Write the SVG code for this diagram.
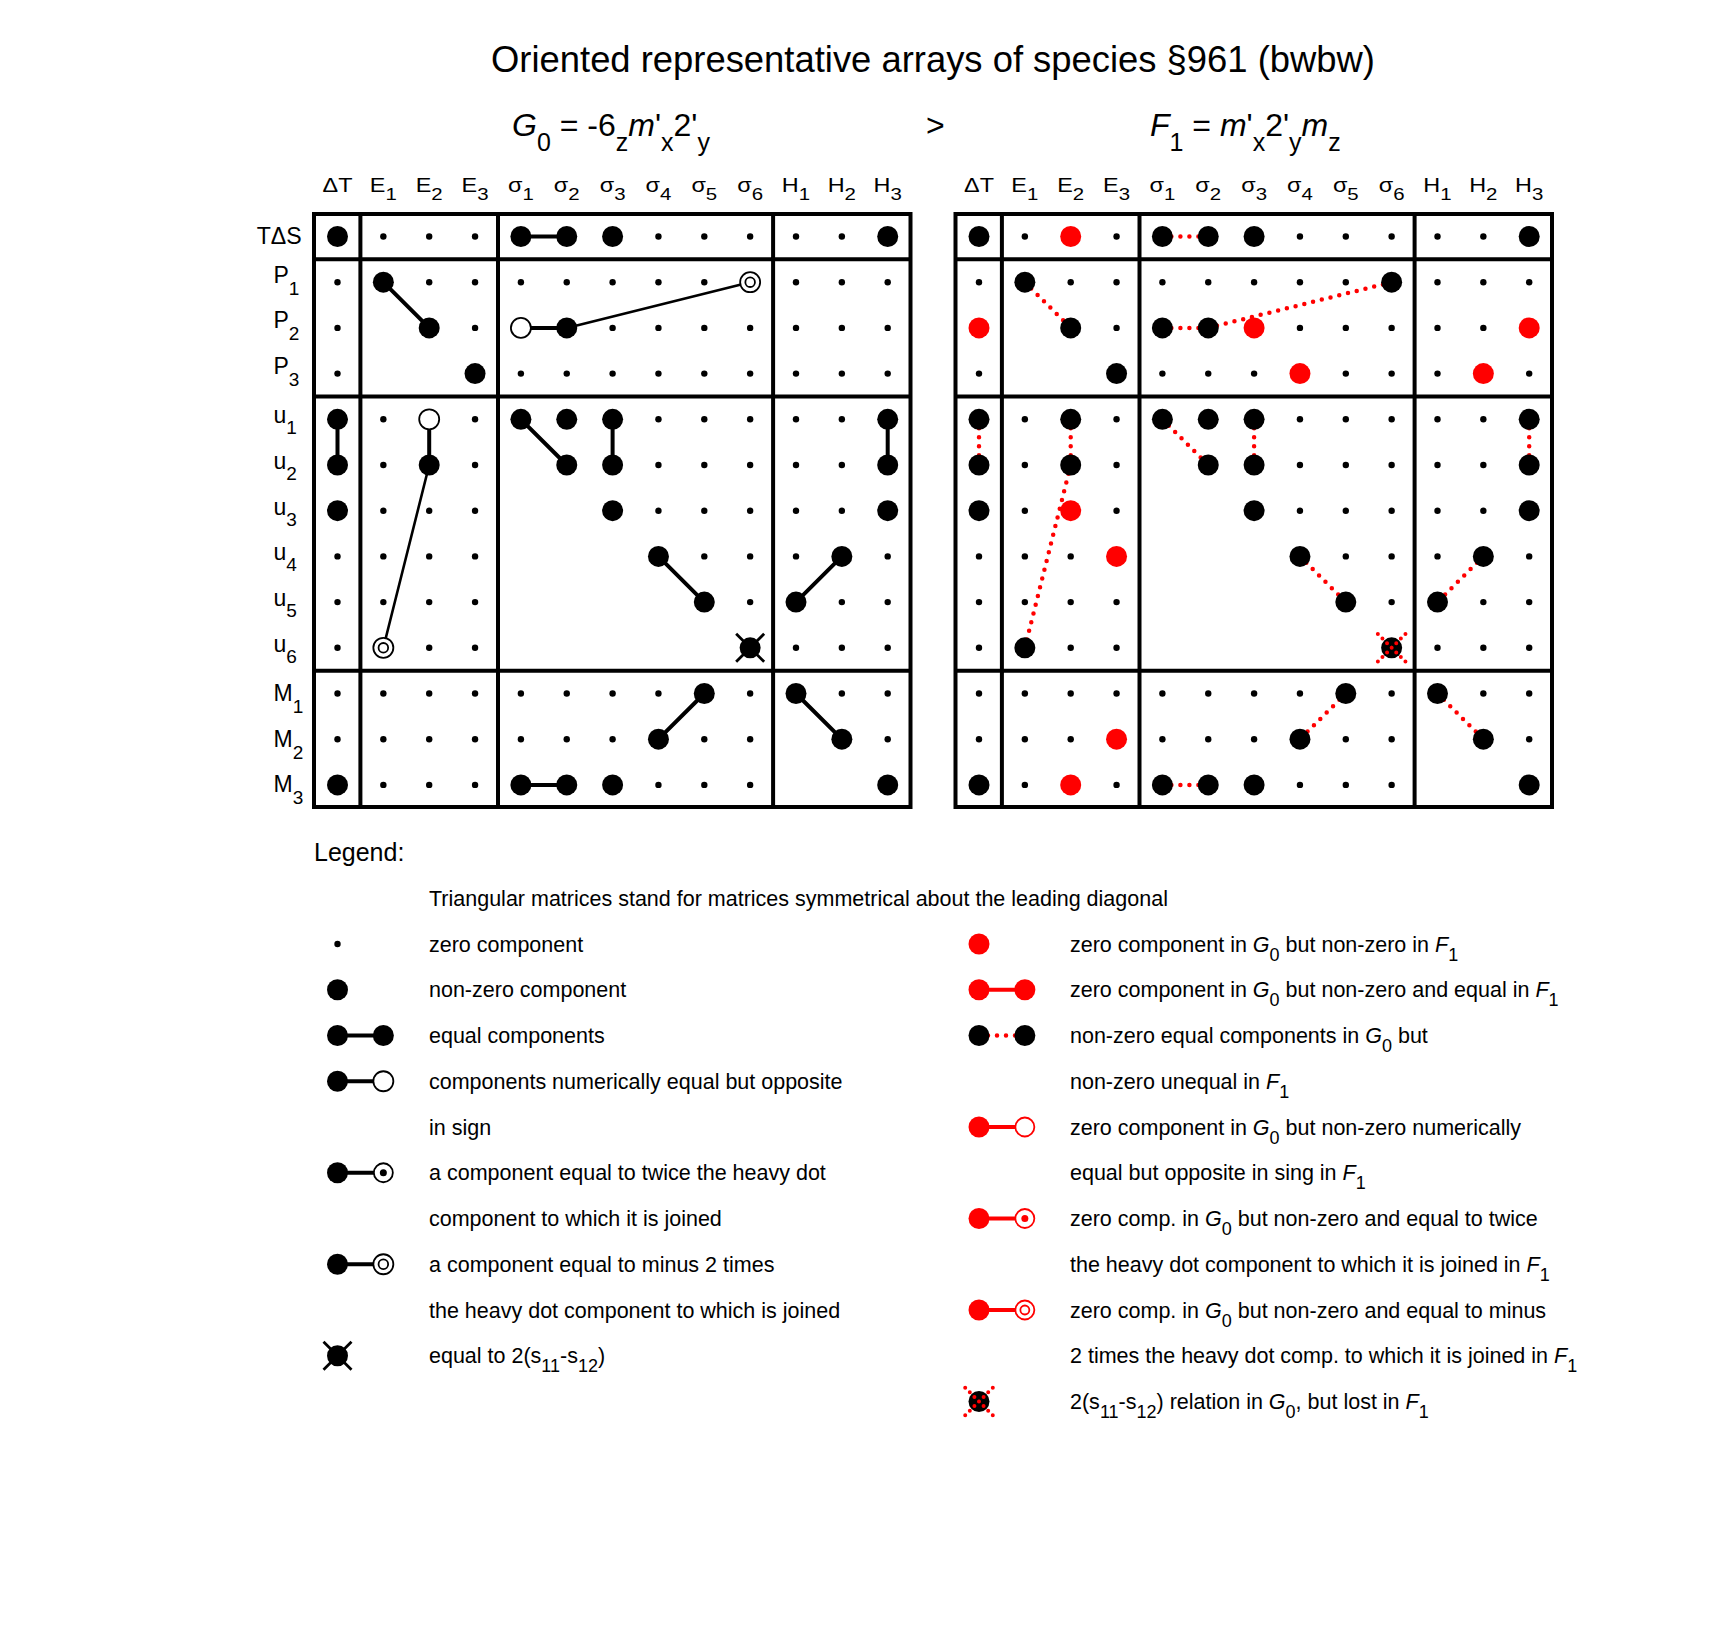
<svg xmlns="http://www.w3.org/2000/svg" width="1715" height="1626" viewBox="0 0 1715 1626">
<style>
text{font-family:"Liberation Sans",Arial,sans-serif;fill:#000}
.title{font-size:36.4px}
.f{font-size:32px}
.fs{font-size:25px}
.h{font-size:19.5px;text-anchor:middle}
.hs{font-size:17px}
.rl{font-size:23px}
.rs{font-size:19px}
.lg{font-size:21.5px}
.ls{font-size:18px}
.i{font-style:italic}
.frame{fill:none;stroke:#000;stroke-width:4}
.thick{stroke:#000;stroke-width:4;fill:none}
.thin{stroke:#000;stroke-width:2.6;fill:none}
.rdot{stroke:#f00;stroke-width:4.5;stroke-dasharray:0 9;stroke-linecap:round;fill:none}
.rline{stroke:#f00;stroke-width:4;fill:none}
</style>
<defs>
<circle id="s" r="3.2"/>
<circle id="b" r="10.5"/>
<circle id="r" r="10.5" fill="#f00"/>
<g id="o"><circle r="10" fill="#fff" stroke="#000" stroke-width="1.8"/></g>
<g id="d"><circle r="10" fill="#fff" stroke="#000" stroke-width="1.8"/><circle r="4.8" fill="none" stroke="#000" stroke-width="1.8"/></g>
<g id="t"><circle r="9.5" fill="#fff" stroke="#000" stroke-width="1.8"/><circle r="3.5"/></g>
<g id="ro"><circle r="9.5" fill="#fff" stroke="#f00" stroke-width="1.8"/></g>
<g id="rt"><circle r="9.5" fill="#fff" stroke="#f00" stroke-width="1.8"/><circle r="3.5" fill="#f00"/></g>
<g id="rd"><circle r="9.5" fill="#fff" stroke="#f00" stroke-width="1.8"/><circle r="4.5" fill="none" stroke="#f00" stroke-width="1.8"/></g>
<g id="x"><circle r="10.5"/><path d="M-14,-14L14,14M14,-14L-14,14" stroke="#000" stroke-width="2.8"/></g>
<g id="y"><circle r="10.5"/><path d="M-13.8,-13.8L13.8,13.8M13.8,-13.8L-13.8,13.8" stroke="#f00" stroke-width="4" stroke-linecap="round" stroke-dasharray="0 6.5" fill="none"/></g>
</defs>
<rect width="1715" height="1626" fill="#fff"/>

<g id="titles">
<text class="title" x="933" y="72" text-anchor="middle">Oriented representative arrays of species §961 (bwbw)</text>
<text class="f" x="512" y="136"><tspan class="i">G</tspan><tspan class="fs" dy="15">0</tspan><tspan dy="-15"> = -6</tspan><tspan class="fs" dy="15">z</tspan><tspan class="i" dy="-15">m</tspan><tspan>'</tspan><tspan class="fs" dy="15">x</tspan><tspan dy="-15">2'</tspan><tspan class="fs" dy="15">y</tspan></text>
<text class="f" x="926" y="136">&gt;</text>
<text class="f" x="1150" y="136"><tspan class="i">F</tspan><tspan class="fs" dy="15">1</tspan><tspan dy="-15"> = </tspan><tspan class="i">m</tspan><tspan>'</tspan><tspan class="fs" dy="15">x</tspan><tspan dy="-15">2'</tspan><tspan class="fs" dy="15">y</tspan><tspan class="i" dy="-15">m</tspan><tspan class="fs" dy="15">z</tspan></text>
</g>

<g id="headers">
<g id="headers-G0" transform="translate(337.5,191.5) scale(1.2,1)">
<text class="h" x="0">ΔT</text>
<text class="h" x="38.21">E<tspan class="hs" dy="8.5">1</tspan></text>
<text class="h" x="76.42">E<tspan class="hs" dy="8.5">2</tspan></text>
<text class="h" x="114.63">E<tspan class="hs" dy="8.5">3</tspan></text>
<text class="h" x="152.83">σ<tspan class="hs" dy="8.5">1</tspan></text>
<text class="h" x="191.04">σ<tspan class="hs" dy="8.5">2</tspan></text>
<text class="h" x="229.25">σ<tspan class="hs" dy="8.5">3</tspan></text>
<text class="h" x="267.46">σ<tspan class="hs" dy="8.5">4</tspan></text>
<text class="h" x="305.67">σ<tspan class="hs" dy="8.5">5</tspan></text>
<text class="h" x="343.88">σ<tspan class="hs" dy="8.5">6</tspan></text>
<text class="h" x="382.08">H<tspan class="hs" dy="8.5">1</tspan></text>
<text class="h" x="420.29">H<tspan class="hs" dy="8.5">2</tspan></text>
<text class="h" x="458.5">H<tspan class="hs" dy="8.5">3</tspan></text>
</g>
<g id="headers-F1" transform="translate(979,191.5) scale(1.2,1)">
<text class="h" x="0">ΔT</text>
<text class="h" x="38.21">E<tspan class="hs" dy="8.5">1</tspan></text>
<text class="h" x="76.42">E<tspan class="hs" dy="8.5">2</tspan></text>
<text class="h" x="114.63">E<tspan class="hs" dy="8.5">3</tspan></text>
<text class="h" x="152.83">σ<tspan class="hs" dy="8.5">1</tspan></text>
<text class="h" x="191.04">σ<tspan class="hs" dy="8.5">2</tspan></text>
<text class="h" x="229.25">σ<tspan class="hs" dy="8.5">3</tspan></text>
<text class="h" x="267.46">σ<tspan class="hs" dy="8.5">4</tspan></text>
<text class="h" x="305.67">σ<tspan class="hs" dy="8.5">5</tspan></text>
<text class="h" x="343.88">σ<tspan class="hs" dy="8.5">6</tspan></text>
<text class="h" x="382.08">H<tspan class="hs" dy="8.5">1</tspan></text>
<text class="h" x="420.29">H<tspan class="hs" dy="8.5">2</tspan></text>
<text class="h" x="458.5">H<tspan class="hs" dy="8.5">3</tspan></text>
</g>
</g>

<g id="row-labels" transform="translate(0,236.5)">
<text class="rl" x="256.7" y="7.5" textLength="45" lengthAdjust="spacingAndGlyphs">TΔS</text>
<text class="rl" x="273.5" y="46">P<tspan class="rs" dy="12">1</tspan></text>
<text class="rl" x="273.5" y="91.7">P<tspan class="rs" dy="12">2</tspan></text>
<text class="rl" x="273.5" y="137.4">P<tspan class="rs" dy="12">3</tspan></text>
<text class="rl" x="273.5" y="186.8">u<tspan class="rs" dy="11">1</tspan></text>
<text class="rl" x="273.5" y="232.5">u<tspan class="rs" dy="11">2</tspan></text>
<text class="rl" x="273.5" y="278.2">u<tspan class="rs" dy="11">3</tspan></text>
<text class="rl" x="273.5" y="323.9">u<tspan class="rs" dy="11">4</tspan></text>
<text class="rl" x="273.5" y="369.6">u<tspan class="rs" dy="11">5</tspan></text>
<text class="rl" x="273.5" y="415.3">u<tspan class="rs" dy="11">6</tspan></text>
<text class="rl" x="273.5" y="464.5">M<tspan class="rs" dy="12">1</tspan></text>
<text class="rl" x="273.5" y="510.2">M<tspan class="rs" dy="12">2</tspan></text>
<text class="rl" x="273.5" y="555.9">M<tspan class="rs" dy="12">3</tspan></text>
</g>

<g id="frames">
<g id="frame-G0" transform="translate(337.5,236.5)">
<rect class="frame" x="-23.5" y="-22.5" width="596.5" height="593"/>
<path class="frame" d="M22.9,-22.5V570.5M160.5,-22.5V570.5M435.6,-22.5V570.5M-23.5,22.85H573M-23.5,159.95H573M-23.5,434.15H573"/>
</g>
<g id="frame-F1" transform="translate(979,236.5)">
<rect class="frame" x="-23.5" y="-22.5" width="596.5" height="593"/>
<path class="frame" d="M22.9,-22.5V570.5M160.5,-22.5V570.5M435.6,-22.5V570.5M-23.5,22.85H573M-23.5,159.95H573M-23.5,434.15H573"/>
</g>
</g>

<g id="connectors">
<g id="connectors-G0" transform="translate(337.5,236.5)">
<path class="thick" d="M183.4,0H229.25M45.85,45.7L91.7,91.4M183.4,91.4H229.25M0,182.8V228.5M91.7,182.8V228.5M183.4,182.8L229.25,228.5M275.1,182.8V228.5M550.2,182.8V228.5M320.95,319.9L366.8,365.6M504.35,319.9L458.5,365.6M366.8,457L320.95,502.7M458.5,457L504.35,502.7M183.4,548.4H229.25"/>
<path class="thin" d="M229.25,91.4L412.65,45.7M91.7,228.5L45.85,411.3"/>
</g>
<g id="connectors-F1" transform="translate(979,236.5)">
<path class="rdot" d="M183.4,0H229.25M45.85,45.7L91.7,91.4M183.4,91.4H229.25M0,182.8V228.5M91.7,182.8V228.5M183.4,182.8L229.25,228.5M275.1,182.8V228.5M550.2,182.8V228.5M320.95,319.9L366.8,365.6M504.35,319.9L458.5,365.6M366.8,457L320.95,502.7M458.5,457L504.35,502.7M183.4,548.4H229.25M229.25,91.4L412.65,45.7M91.7,228.5L45.85,411.3"/>
</g>
</g>

<g id="array-G0" transform="translate(337.5,236.5)">
<g id="G0-TdS"><use href="#b" x="0"/><use href="#s" x="45.85"/><use href="#s" x="91.7"/><use href="#s" x="137.55"/><use href="#b" x="183.4"/><use href="#b" x="229.25"/><use href="#b" x="275.1"/><use href="#s" x="320.95"/><use href="#s" x="366.8"/><use href="#s" x="412.65"/><use href="#s" x="458.5"/><use href="#s" x="504.35"/><use href="#b" x="550.2"/></g>
<g id="G0-P1" transform="translate(0,45.7)"><use href="#s" x="0"/><use href="#b" x="45.85"/><use href="#s" x="91.7"/><use href="#s" x="137.55"/><use href="#s" x="183.4"/><use href="#s" x="229.25"/><use href="#s" x="275.1"/><use href="#s" x="320.95"/><use href="#s" x="366.8"/><use href="#d" x="412.65"/><use href="#s" x="458.5"/><use href="#s" x="504.35"/><use href="#s" x="550.2"/></g>
<g id="G0-P2" transform="translate(0,91.4)"><use href="#s" x="0"/><use href="#b" x="91.7"/><use href="#s" x="137.55"/><use href="#o" x="183.4"/><use href="#b" x="229.25"/><use href="#s" x="275.1"/><use href="#s" x="320.95"/><use href="#s" x="366.8"/><use href="#s" x="412.65"/><use href="#s" x="458.5"/><use href="#s" x="504.35"/><use href="#s" x="550.2"/></g>
<g id="G0-P3" transform="translate(0,137.1)"><use href="#s" x="0"/><use href="#b" x="137.55"/><use href="#s" x="183.4"/><use href="#s" x="229.25"/><use href="#s" x="275.1"/><use href="#s" x="320.95"/><use href="#s" x="366.8"/><use href="#s" x="412.65"/><use href="#s" x="458.5"/><use href="#s" x="504.35"/><use href="#s" x="550.2"/></g>
<g id="G0-u1" transform="translate(0,182.8)"><use href="#b" x="0"/><use href="#s" x="45.85"/><use href="#o" x="91.7"/><use href="#s" x="137.55"/><use href="#b" x="183.4"/><use href="#b" x="229.25"/><use href="#b" x="275.1"/><use href="#s" x="320.95"/><use href="#s" x="366.8"/><use href="#s" x="412.65"/><use href="#s" x="458.5"/><use href="#s" x="504.35"/><use href="#b" x="550.2"/></g>
<g id="G0-u2" transform="translate(0,228.5)"><use href="#b" x="0"/><use href="#s" x="45.85"/><use href="#b" x="91.7"/><use href="#s" x="137.55"/><use href="#b" x="229.25"/><use href="#b" x="275.1"/><use href="#s" x="320.95"/><use href="#s" x="366.8"/><use href="#s" x="412.65"/><use href="#s" x="458.5"/><use href="#s" x="504.35"/><use href="#b" x="550.2"/></g>
<g id="G0-u3" transform="translate(0,274.2)"><use href="#b" x="0"/><use href="#s" x="45.85"/><use href="#s" x="91.7"/><use href="#s" x="137.55"/><use href="#b" x="275.1"/><use href="#s" x="320.95"/><use href="#s" x="366.8"/><use href="#s" x="412.65"/><use href="#s" x="458.5"/><use href="#s" x="504.35"/><use href="#b" x="550.2"/></g>
<g id="G0-u4" transform="translate(0,319.9)"><use href="#s" x="0"/><use href="#s" x="45.85"/><use href="#s" x="91.7"/><use href="#s" x="137.55"/><use href="#b" x="320.95"/><use href="#s" x="366.8"/><use href="#s" x="412.65"/><use href="#s" x="458.5"/><use href="#b" x="504.35"/><use href="#s" x="550.2"/></g>
<g id="G0-u5" transform="translate(0,365.6)"><use href="#s" x="0"/><use href="#s" x="45.85"/><use href="#s" x="91.7"/><use href="#s" x="137.55"/><use href="#b" x="366.8"/><use href="#s" x="412.65"/><use href="#b" x="458.5"/><use href="#s" x="504.35"/><use href="#s" x="550.2"/></g>
<g id="G0-u6" transform="translate(0,411.3)"><use href="#s" x="0"/><use href="#d" x="45.85"/><use href="#s" x="91.7"/><use href="#s" x="137.55"/><use href="#x" x="412.65"/><use href="#s" x="458.5"/><use href="#s" x="504.35"/><use href="#s" x="550.2"/></g>
<g id="G0-M1" transform="translate(0,457)"><use href="#s" x="0"/><use href="#s" x="45.85"/><use href="#s" x="91.7"/><use href="#s" x="137.55"/><use href="#s" x="183.4"/><use href="#s" x="229.25"/><use href="#s" x="275.1"/><use href="#s" x="320.95"/><use href="#b" x="366.8"/><use href="#s" x="412.65"/><use href="#b" x="458.5"/><use href="#s" x="504.35"/><use href="#s" x="550.2"/></g>
<g id="G0-M2" transform="translate(0,502.7)"><use href="#s" x="0"/><use href="#s" x="45.85"/><use href="#s" x="91.7"/><use href="#s" x="137.55"/><use href="#s" x="183.4"/><use href="#s" x="229.25"/><use href="#s" x="275.1"/><use href="#b" x="320.95"/><use href="#s" x="366.8"/><use href="#s" x="412.65"/><use href="#b" x="504.35"/><use href="#s" x="550.2"/></g>
<g id="G0-M3" transform="translate(0,548.4)"><use href="#b" x="0"/><use href="#s" x="45.85"/><use href="#s" x="91.7"/><use href="#s" x="137.55"/><use href="#b" x="183.4"/><use href="#b" x="229.25"/><use href="#b" x="275.1"/><use href="#s" x="320.95"/><use href="#s" x="366.8"/><use href="#s" x="412.65"/><use href="#b" x="550.2"/></g>
</g>

<g id="array-F1" transform="translate(979,236.5)">
<g id="F1-TdS"><use href="#b" x="0"/><use href="#s" x="45.85"/><use href="#r" x="91.7"/><use href="#s" x="137.55"/><use href="#b" x="183.4"/><use href="#b" x="229.25"/><use href="#b" x="275.1"/><use href="#s" x="320.95"/><use href="#s" x="366.8"/><use href="#s" x="412.65"/><use href="#s" x="458.5"/><use href="#s" x="504.35"/><use href="#b" x="550.2"/></g>
<g id="F1-P1" transform="translate(0,45.7)"><use href="#s" x="0"/><use href="#b" x="45.85"/><use href="#s" x="91.7"/><use href="#s" x="137.55"/><use href="#s" x="183.4"/><use href="#s" x="229.25"/><use href="#s" x="275.1"/><use href="#s" x="320.95"/><use href="#s" x="366.8"/><use href="#b" x="412.65"/><use href="#s" x="458.5"/><use href="#s" x="504.35"/><use href="#s" x="550.2"/></g>
<g id="F1-P2" transform="translate(0,91.4)"><use href="#r" x="0"/><use href="#b" x="91.7"/><use href="#s" x="137.55"/><use href="#b" x="183.4"/><use href="#b" x="229.25"/><use href="#r" x="275.1"/><use href="#s" x="320.95"/><use href="#s" x="366.8"/><use href="#s" x="412.65"/><use href="#s" x="458.5"/><use href="#s" x="504.35"/><use href="#r" x="550.2"/></g>
<g id="F1-P3" transform="translate(0,137.1)"><use href="#s" x="0"/><use href="#b" x="137.55"/><use href="#s" x="183.4"/><use href="#s" x="229.25"/><use href="#s" x="275.1"/><use href="#r" x="320.95"/><use href="#s" x="366.8"/><use href="#s" x="412.65"/><use href="#s" x="458.5"/><use href="#r" x="504.35"/><use href="#s" x="550.2"/></g>
<g id="F1-u1" transform="translate(0,182.8)"><use href="#b" x="0"/><use href="#s" x="45.85"/><use href="#b" x="91.7"/><use href="#s" x="137.55"/><use href="#b" x="183.4"/><use href="#b" x="229.25"/><use href="#b" x="275.1"/><use href="#s" x="320.95"/><use href="#s" x="366.8"/><use href="#s" x="412.65"/><use href="#s" x="458.5"/><use href="#s" x="504.35"/><use href="#b" x="550.2"/></g>
<g id="F1-u2" transform="translate(0,228.5)"><use href="#b" x="0"/><use href="#s" x="45.85"/><use href="#b" x="91.7"/><use href="#s" x="137.55"/><use href="#b" x="229.25"/><use href="#b" x="275.1"/><use href="#s" x="320.95"/><use href="#s" x="366.8"/><use href="#s" x="412.65"/><use href="#s" x="458.5"/><use href="#s" x="504.35"/><use href="#b" x="550.2"/></g>
<g id="F1-u3" transform="translate(0,274.2)"><use href="#b" x="0"/><use href="#s" x="45.85"/><use href="#r" x="91.7"/><use href="#s" x="137.55"/><use href="#b" x="275.1"/><use href="#s" x="320.95"/><use href="#s" x="366.8"/><use href="#s" x="412.65"/><use href="#s" x="458.5"/><use href="#s" x="504.35"/><use href="#b" x="550.2"/></g>
<g id="F1-u4" transform="translate(0,319.9)"><use href="#s" x="0"/><use href="#s" x="45.85"/><use href="#s" x="91.7"/><use href="#r" x="137.55"/><use href="#b" x="320.95"/><use href="#s" x="366.8"/><use href="#s" x="412.65"/><use href="#s" x="458.5"/><use href="#b" x="504.35"/><use href="#s" x="550.2"/></g>
<g id="F1-u5" transform="translate(0,365.6)"><use href="#s" x="0"/><use href="#s" x="45.85"/><use href="#s" x="91.7"/><use href="#s" x="137.55"/><use href="#b" x="366.8"/><use href="#s" x="412.65"/><use href="#b" x="458.5"/><use href="#s" x="504.35"/><use href="#s" x="550.2"/></g>
<g id="F1-u6" transform="translate(0,411.3)"><use href="#s" x="0"/><use href="#b" x="45.85"/><use href="#s" x="91.7"/><use href="#s" x="137.55"/><use href="#y" x="412.65"/><use href="#s" x="458.5"/><use href="#s" x="504.35"/><use href="#s" x="550.2"/></g>
<g id="F1-M1" transform="translate(0,457)"><use href="#s" x="0"/><use href="#s" x="45.85"/><use href="#s" x="91.7"/><use href="#s" x="137.55"/><use href="#s" x="183.4"/><use href="#s" x="229.25"/><use href="#s" x="275.1"/><use href="#s" x="320.95"/><use href="#b" x="366.8"/><use href="#s" x="412.65"/><use href="#b" x="458.5"/><use href="#s" x="504.35"/><use href="#s" x="550.2"/></g>
<g id="F1-M2" transform="translate(0,502.7)"><use href="#s" x="0"/><use href="#s" x="45.85"/><use href="#s" x="91.7"/><use href="#r" x="137.55"/><use href="#s" x="183.4"/><use href="#s" x="229.25"/><use href="#s" x="275.1"/><use href="#b" x="320.95"/><use href="#s" x="366.8"/><use href="#s" x="412.65"/><use href="#b" x="504.35"/><use href="#s" x="550.2"/></g>
<g id="F1-M3" transform="translate(0,548.4)"><use href="#b" x="0"/><use href="#s" x="45.85"/><use href="#r" x="91.7"/><use href="#s" x="137.55"/><use href="#b" x="183.4"/><use href="#b" x="229.25"/><use href="#b" x="275.1"/><use href="#s" x="320.95"/><use href="#s" x="366.8"/><use href="#s" x="412.65"/><use href="#b" x="550.2"/></g>
</g>

<g id="legend">
<text x="314" y="861" style="font-size:25px">Legend:</text>
<text class="lg" x="429" y="905.75">Triangular matrices stand for matrices symmetrical about the leading diagonal</text>
<g id="legend-left">
<use href="#s" x="337.5" y="944"/>
<use href="#b" x="337.5" y="989.75"/>
<path class="thick" d="M337.5,1035.5H383.35M337.5,1081.25H383.35M337.5,1172.75H383.35M337.5,1264.25H383.35"/>
<use href="#b" x="337.5" y="1035.5"/><use href="#b" x="383.35" y="1035.5"/>
<use href="#b" x="337.5" y="1081.25"/><use href="#o" x="383.35" y="1081.25"/>
<use href="#b" x="337.5" y="1172.75"/><use href="#t" x="383.35" y="1172.75"/>
<use href="#b" x="337.5" y="1264.25"/><use href="#d" x="383.35" y="1264.25"/>
<use href="#x" x="337.5" y="1355.75"/>
<text class="lg" x="429" y="951.5">zero component</text>
<text class="lg" x="429" y="997.25">non-zero component</text>
<text class="lg" x="429" y="1043">equal components</text>
<text class="lg" x="429" y="1088.75">components numerically equal but opposite</text>
<text class="lg" x="429" y="1134.5">in sign</text>
<text class="lg" x="429" y="1180.25">a component equal to twice the heavy dot</text>
<text class="lg" x="429" y="1226">component to which it is joined</text>
<text class="lg" x="429" y="1271.75">a component equal to minus 2 times</text>
<text class="lg" x="429" y="1317.5">the heavy dot component to which is joined</text>
<text class="lg" x="429" y="1363.25">equal to 2(s<tspan class="ls" dy="9">11</tspan><tspan dy="-9">-s</tspan><tspan class="ls" dy="9">12</tspan><tspan dy="-9">)</tspan></text>
</g>
<g id="legend-right">
<use href="#r" x="979" y="944"/>
<path class="rline" d="M979,989.75H1024.85M979,1127H1024.85M979,1218.5H1024.85M979,1310H1024.85"/>
<use href="#r" x="979" y="989.75"/><use href="#r" x="1024.85" y="989.75"/>
<path class="rdot" d="M979,1035.5H1024.85"/>
<use href="#b" x="979" y="1035.5"/><use href="#b" x="1024.85" y="1035.5"/>
<use href="#r" x="979" y="1127"/><use href="#ro" x="1024.85" y="1127"/>
<use href="#r" x="979" y="1218.5"/><use href="#rt" x="1024.85" y="1218.5"/>
<use href="#r" x="979" y="1310"/><use href="#rd" x="1024.85" y="1310"/>
<use href="#y" x="979" y="1401.5"/>
<text class="lg" x="1070" y="951.5">zero component in <tspan class="i">G</tspan><tspan class="ls" dy="9">0</tspan><tspan dy="-9"> but non-zero in </tspan><tspan class="i">F</tspan><tspan class="ls" dy="9">1</tspan></text>
<text class="lg" x="1070" y="997.25">zero component in <tspan class="i">G</tspan><tspan class="ls" dy="9">0</tspan><tspan dy="-9"> but non-zero and equal in </tspan><tspan class="i">F</tspan><tspan class="ls" dy="9">1</tspan></text>
<text class="lg" x="1070" y="1043">non-zero equal components in <tspan class="i">G</tspan><tspan class="ls" dy="9">0</tspan><tspan dy="-9"> but</tspan></text>
<text class="lg" x="1070" y="1088.75">non-zero unequal in <tspan class="i">F</tspan><tspan class="ls" dy="9">1</tspan></text>
<text class="lg" x="1070" y="1134.5">zero component in <tspan class="i">G</tspan><tspan class="ls" dy="9">0</tspan><tspan dy="-9"> but non-zero numerically</tspan></text>
<text class="lg" x="1070" y="1180.25">equal but opposite in sing in <tspan class="i">F</tspan><tspan class="ls" dy="9">1</tspan></text>
<text class="lg" x="1070" y="1226">zero comp. in <tspan class="i">G</tspan><tspan class="ls" dy="9">0</tspan><tspan dy="-9"> but non-zero and equal to twice</tspan></text>
<text class="lg" x="1070" y="1271.75">the heavy dot component to which it is joined in <tspan class="i">F</tspan><tspan class="ls" dy="9">1</tspan></text>
<text class="lg" x="1070" y="1317.5">zero comp. in <tspan class="i">G</tspan><tspan class="ls" dy="9">0</tspan><tspan dy="-9"> but non-zero and equal to minus</tspan></text>
<text class="lg" x="1070" y="1363.25">2 times the heavy dot comp. to which it is joined in <tspan class="i">F</tspan><tspan class="ls" dy="9">1</tspan></text>
<text class="lg" x="1070" y="1409">2(s<tspan class="ls" dy="9">11</tspan><tspan dy="-9">-s</tspan><tspan class="ls" dy="9">12</tspan><tspan dy="-9">) relation in </tspan><tspan class="i">G</tspan><tspan class="ls" dy="9">0</tspan><tspan dy="-9">, but lost in </tspan><tspan class="i">F</tspan><tspan class="ls" dy="9">1</tspan></text>
</g>
</g>
</svg>
